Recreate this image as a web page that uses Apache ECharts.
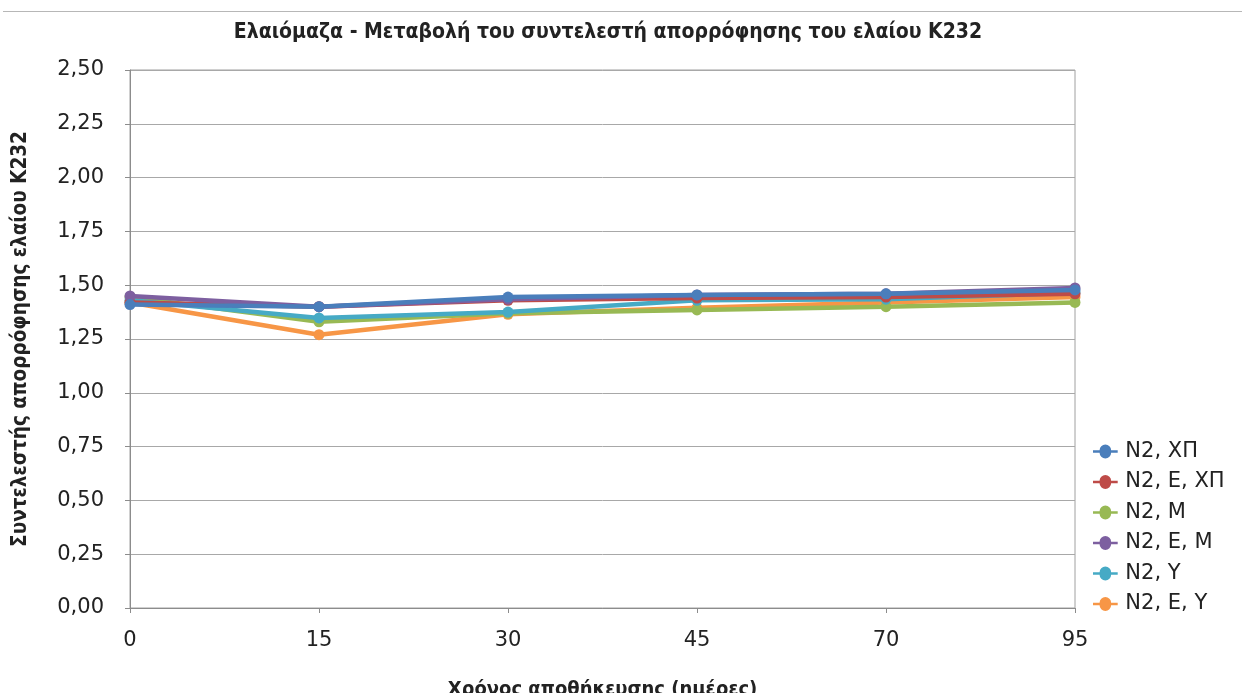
<!DOCTYPE html>
<html>
<head>
<meta charset="utf-8">
<script src="https://cdn.jsdelivr.net/npm/echarts@6/dist/echarts.min.js"></script>
<style>
html,body{margin:0;padding:0;background:#fff;}
#chart{width:1242px;height:693px;}
#topline{position:absolute;left:3px;right:0;top:11px;height:1px;background:#b7b7b7;}
</style>
</head>
<body>
<div id="topline"></div>
<div id="chart"></div>
<script>
// Storage time (days) on the x axis
const days = ['0', '15', '30', '45', '70', '95'];

// K232 absorption coefficient per treatment
const n2XP   = [1.41, 1.40, 1.445, 1.455, 1.46, 1.478];
const n2EXP  = [1.42, 1.40, 1.43, 1.44, 1.445, 1.46];
const n2M    = [1.445, 1.33, 1.37, 1.385, 1.40, 1.42];
const n2EM   = [1.45, 1.40, 1.435, 1.455, 1.46, 1.487];
const n2Y    = [1.43, 1.348, 1.375, 1.43, 1.435, 1.465];
const n2EY   = [1.42, 1.27, 1.365, 1.395, 1.42, 1.445];

const seriesNames = ['N2, ΧΠ', 'N2, Ε, ΧΠ', 'N2, Μ', 'N2, Ε, Μ', 'N2, Υ', 'N2, Ε, Υ'];
const seriesData = [n2XP, n2EXP, n2M, n2EM, n2Y, n2EY];
const colors = ['#4a7ebb', '#be4b48', '#98b954', '#7d5fa0', '#46aac5', '#f79646'];
// drawing order: later series sit on top
const drawOrder = [5, 2, 4, 1, 3, 0];

const chart = echarts.init(document.getElementById('chart'));
const font = 'DejaVu Sans';
const titleFont = 'DejaVu Sans Condensed, DejaVu Sans';

chart.setOption({
  animation: false,
  color: colors,
  title: {
    text: 'Ελαιόμαζα - Μεταβολή του συντελεστή απορρόφησης του ελαίου Κ232',
    left: 603, top: 17, textAlign: 'center',
    textStyle: {fontFamily: titleFont, fontSize: 21, fontWeight: 'bold', color: '#222'}
  },
  legend: {
    orient: 'vertical',
    left: 1088, top: 436,
    itemWidth: 30, itemHeight: 14, itemGap: 9.5,
    icon: 'path://M0,5.5 L8,5.5 A7,7 0 0 1 22,5.5 L30,5.5 L30,8.5 L22,8.5 A7,7 0 0 1 8,8.5 L0,8.5 Z',
    textStyle: {fontFamily: font, fontSize: 21, color: '#222'},
    data: seriesNames
  },
  grid: {
    left: 130, right: 167, top: 70, bottom: 85,
    outerBoundsMode: 'none', containLabel: false,
    show: true, borderColor: '#a0a0a0', borderWidth: 1
  },
  xAxis: {
    type: 'category', data: days, boundaryGap: false,
    name: 'Χρόνος αποθήκευσης (ημέρες)', nameLocation: 'middle', nameGap: 72,
    nameTextStyle: {fontFamily: titleFont, fontSize: 20, fontWeight: 'bold', color: '#222'},
    axisLine: {lineStyle: {color: '#8c8c8c'}},
    axisTick: {show: true, alignWithLabel: true, lineStyle: {color: '#8c8c8c'}, length: 5},
    axisLabel: {fontFamily: font, fontSize: 21, color: '#222', margin: 22},
    splitLine: {show: false}
  },
  yAxis: {
    type: 'value', min: 0, max: 2.5, interval: 0.25,
    name: 'Συντελεστής απορρόφησης ελαίου Κ232', nameLocation: 'middle', nameGap: 99,
    nameTextStyle: {fontFamily: titleFont, fontSize: 20.5, fontWeight: 'bold', color: '#222'},
    axisLine: {show: true, lineStyle: {color: '#8c8c8c'}},
    axisTick: {show: true, lineStyle: {color: '#8c8c8c'}, length: 5},
    axisLabel: {fontFamily: font, fontSize: 21, color: '#222', margin: 26,
      formatter: v => v.toFixed(2).replace('.', ',')},
    splitLine: {lineStyle: {color: '#a8a8a8'}}
  },
  series: drawOrder.map(i => ({
    name: seriesNames[i],
    type: 'line',
    data: seriesData[i],
    symbol: 'circle', symbolSize: 11,
    lineStyle: {width: 4.5, color: colors[i]},
    itemStyle: {color: colors[i]},
    z: 2 + drawOrder.indexOf(i)
  }))
});
</script>
</body>
</html>
